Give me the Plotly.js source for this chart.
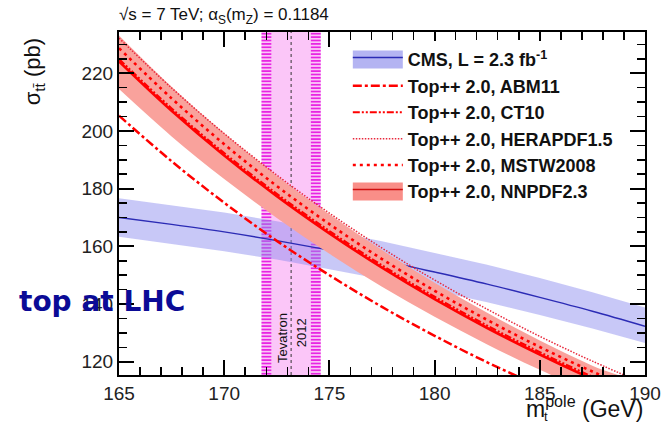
<!DOCTYPE html>
<html><head><meta charset="utf-8">
<script src="https://cdn.plot.ly/plotly-3.0.1.min.js"></script>
<style>html,body{margin:0;padding:0;background:#fff}</style>
</head><body>
<div id="chart" style="width:663px;height:426px"></div>
<script>
// ---- data ----
const massGrid = [165, 167.5, 170, 172.5, 175, 177.5, 180, 182.5, 185, 187.5, 190];
const cmsCentral = [170.0, 167.6, 165.0, 162.0, 158.7, 155.1, 151.1, 146.9, 142.3, 137.5, 132.3];
const cmsUpper   = [176.7, 174.3, 171.7, 168.7, 165.4, 161.8, 157.8, 153.6, 149.0, 144.1, 138.8];
const cmsLower   = [163.3, 160.9, 158.3, 155.4, 152.1, 148.6, 144.7, 140.6, 136.2, 131.5, 126.5];
const abm11      = [205.3, 189.5, 175.1, 161.9, 150.0, 139.0, 129.0, 119.8, 111.5, 103.8, 96.6];
const ct10       = [224.9, 207.8, 192.3, 178.2, 165.3, 153.4, 142.5, 132.5, 123.3, 114.8, 107.0];
const herapdf15  = [232.2, 214.9, 199.1, 184.7, 171.5, 159.4, 148.3, 138.2, 128.8, 120.2, 112.3];
const mstw2008   = [228.7, 211.3, 195.4, 180.9, 167.7, 155.6, 144.6, 134.5, 125.1, 116.6, 108.7];
const nnpdf23    = [224.1, 207.0, 191.5, 177.4, 164.5, 152.6, 141.7, 131.7, 122.5, 114.0, 106.2];
const nnpdf23Up  = [233.1, 215.3, 199.2, 184.5, 171.1, 158.7, 147.4, 137.0, 127.4, 118.6, 110.4];
const nnpdf23Lo  = [214.5, 198.1, 183.3, 169.8, 157.4, 146.0, 135.6, 126.0, 117.2, 109.1, 101.6];
const tevatronMass = 173.18;
const tevatronInner = 0.94;
const tevatronOuter = 1.41;
const xTickVals = [165, 170, 175, 180, 185, 190];
const yTickVals = [120, 140, 160, 180, 200, 220];
const xRange = [165, 190];
const yRange = [115.4, 234.3];
const legendNames = [
  'CMS, L = 2.3 fb<sup>-1</sup>',
  'Top++ 2.0, ABM11',
  'Top++ 2.0, CT10',
  'Top++ 2.0, HERAPDF1.5',
  'Top++ 2.0, MSTW2008',
  'Top++ 2.0, NNPDF2.3'
];

// ---- helpers ----
const RED = '#ff0000';
const BLUE = '#2b2bb5';
function bandX(){ return massGrid.concat(massGrid.slice().reverse()); }
function bandY(up, lo){ return up.concat(lo.slice().reverse()); }
function vBand(lo, hi){ return {x:[lo, hi, hi, lo, lo], y:[yRange[0], yRange[0], yRange[1], yRange[1], yRange[0]]}; }

const outer = vBand(tevatronMass - tevatronOuter, tevatronMass + tevatronOuter);
const inner = vBand(tevatronMass - tevatronInner, tevatronMass + tevatronInner);

const LF = {family:'Liberation Sans, Arial, sans-serif', size:18, color:'#111', weight:'bold'};

const data = [
  {x: outer.x, y: outer.y, type:'scatter', mode:'lines', fill:'toself', line:{width:0},
   fillcolor:'#fbc6f8',
   fillpattern:{shape:'-', fgcolor:'#e614e0', bgcolor:'#fbc6f8', size:3.4, solidity:0.45},
   showlegend:false, hoverinfo:'skip'},
  {x: inner.x, y: inner.y, type:'scatter', mode:'lines', fill:'toself', line:{width:0},
   fillcolor:'#fbc6f8', showlegend:false, hoverinfo:'skip'},
  {x:[tevatronMass, tevatronMass], y: yRange, type:'scatter', mode:'lines',
   line:{color:'#333', width:1, dash:'3px,3px'}, showlegend:false},
  // CMS band
  {x: bandX(), y: bandY(cmsUpper, cmsLower), type:'scatter', mode:'lines', fill:'toself',
   line:{width:0}, fillcolor:'rgba(140,140,238,0.48)', showlegend:false},
  {x: massGrid, y: cmsCentral, type:'scatter', mode:'lines', line:{color:BLUE, width:1.4, shape:'spline'},
   showlegend:false},
  // NNPDF band
  {x: bandX(), y: bandY(nnpdf23Up, nnpdf23Lo), type:'scatter', mode:'lines', fill:'toself',
   line:{width:0, shape:'spline'}, fillcolor:'#f9a29c', showlegend:false},
  {x: massGrid, y: abm11, type:'scatter', mode:'lines', name: legendNames[1], legendrank:2,
   line:{color:RED, width:2.5, dash:'9px,3px,3px,3px', shape:'spline'}},
  {x: massGrid, y: ct10, type:'scatter', mode:'lines', name: legendNames[2], legendrank:3,
   line:{color:RED, width:2.2, dash:'7px,2px,2px,2px,2px,2px', shape:'spline'}},
  {x: massGrid, y: herapdf15, type:'scatter', mode:'lines', name: legendNames[3], legendrank:4,
   line:{color:'#e8283c', width:1.5, dash:'1.5px,1.5px', shape:'spline'}},
  {x: massGrid, y: mstw2008, type:'scatter', mode:'lines', name: legendNames[4], legendrank:5,
   line:{color:RED, width:2.6, dash:'3px,4px', shape:'spline'}},
  {x: massGrid, y: nnpdf23, type:'scatter', mode:'lines', showlegend:false,
   line:{color:RED, width:2.6, shape:'spline'}},
  // legend-only entries for band + line
  {x:[null], y:[null], type:'scatter', mode:'lines', fill:'toself', name: legendNames[0], legendrank:1,
   fillcolor:'#b4b4f2', line:{color:BLUE, width:1.4}},
  {x:[null], y:[null], type:'scatter', mode:'lines', fill:'toself', name: legendNames[5], legendrank:6,
   fillcolor:'#f98e88', line:{color:'#d01010', width:1.4}}
];

const axisFont = {family:'Liberation Sans, Arial, sans-serif', size:19, color:'#222'};
const layout = {
  width:663, height:426,
  margin:{l:119, r:18, t:32, b:51},
  paper_bgcolor:'#fff', plot_bgcolor:'#fff',
  showlegend:true,
  legend:{x:0.435, y:0.973, xanchor:'left', yanchor:'top', bgcolor:'rgba(255,255,255,1)',
          borderwidth:0, font:LF, itemwidth:50, traceorder:'normal'},
  xaxis:{range:xRange, tickvals:xTickVals, ticks:'inside', ticklen:15, tickwidth:2, tickcolor:'#000',
         showline:true, linecolor:'#000', linewidth:2, mirror:'allticks', showgrid:false, zeroline:false,
         tickfont:axisFont, ticklabelstandoff:0,
         minor:{dtick:1, ticks:'inside', ticklen:8, tickwidth:1.5, tickcolor:'#000', showgrid:false}},
  yaxis:{range:yRange, tickvals:yTickVals, ticks:'inside', ticklen:15, tickwidth:2, tickcolor:'#000',
         showline:true, linecolor:'#000', linewidth:2, mirror:'allticks', showgrid:false, zeroline:false,
         tickfont:axisFont,
         minor:{dtick:5, ticks:'inside', ticklen:8, tickwidth:1.5, tickcolor:'#000', showgrid:false}},
  annotations:[
    {xref:'paper', yref:'paper', x:-0.003, y:1.048, xanchor:'left', yanchor:'middle', showarrow:false,
     text:'√s = 7 TeV; α<sub>S</sub>(m<sub>Z</sub>) = 0.1184',
     font:{family:'Liberation Sans, Arial, sans-serif', size:17, color:'#111'}},
    {xref:'paper', yref:'paper', x:-0.16, y:0.885, xanchor:'center', yanchor:'middle', showarrow:false,
     textangle:-90, text:'σ<sub>tt̄</sub> (pb)',
     font:{family:'Liberation Sans, Arial, sans-serif', size:22, color:'#111'}},
    {xref:'paper', yref:'paper', x:1.0, y:-0.093, xanchor:'right', yanchor:'middle', showarrow:false,
     text:'m<sup>pole</sup> (GeV)',
     font:{family:'Liberation Sans, Arial, sans-serif', size:23, color:'#111'}},
    {xref:'paper', yref:'paper', x:0.812, y:-0.121, xanchor:'center', yanchor:'middle', showarrow:false,
     text:'t', font:{family:'Liberation Sans, Arial, sans-serif', size:13, color:'#111'}},
    {xref:'x', yref:'y', x:172.8, y:128.3, xanchor:'center', yanchor:'middle', showarrow:false,
     textangle:-90, text:'Tevatron', font:{family:'Liberation Sans, Arial, sans-serif', size:13, color:'#111'}},
    {xref:'x', yref:'y', x:173.67, y:130.0, xanchor:'center', yanchor:'middle', showarrow:false,
     textangle:-90, text:'2012', font:{family:'Liberation Sans, Arial, sans-serif', size:13, color:'#111'}},
    {xref:'paper', yref:'paper', x:-0.033, y:0.213, xanchor:'center', yanchor:'middle', showarrow:false,
     text:'<b>top at LHC</b>', font:{family:'DejaVu Sans, sans-serif', size:28, color:'#0b0b96'}}
  ]
};

const gd = document.getElementById('chart');
Plotly.newPlot(gd, data, layout, {staticPlot:true}).then(function(){
  gd.querySelectorAll('.legendfill path').forEach(function(p){
    p.setAttribute('d', 'M5,-9h50v18h-50z');
  });
});
</script>
</body></html>
